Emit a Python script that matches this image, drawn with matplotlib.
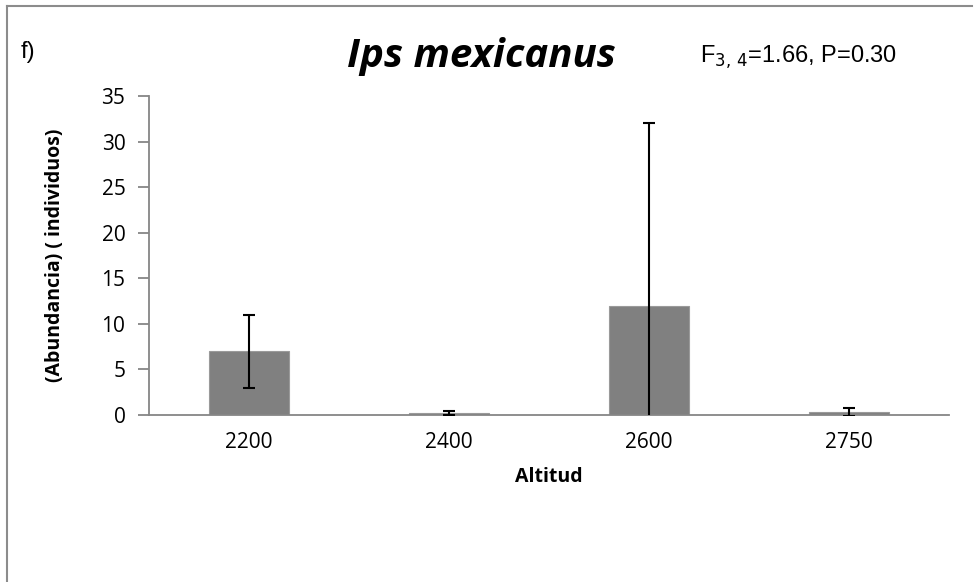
import matplotlib
matplotlib.use("Agg")
import matplotlib.pyplot as plt
from matplotlib.lines import Line2D

categories = ["2200", "2400", "2600", "2750"]
means = [7.0, 0.25, 12.0, 0.3]
errors = [4.0, 0.2, 20.0, 0.45]
yticks = [0, 5, 10, 15, 20, 25, 30, 35]

W, H = 977, 582
fig = plt.figure(figsize=(W / 100, H / 100), dpi=100)
ax = fig.add_axes([149 / W, 1 - 415 / H, 800 / W, 319 / H])

x = range(len(categories))
ax.bar(x, means, width=0.4, color="#808080", edgecolor="#9a9a9a", linewidth=0.8, zorder=2)
ax.errorbar(x, means, yerr=errors, fmt="none", ecolor="black", elinewidth=1.5,
            capsize=4.5, capthick=1.5, zorder=3)

ax.set_xlim(-0.5, len(categories) - 0.5)
ax.set_ylim(0, 35)
ax.set_yticks(yticks)
ax.set_xticks(list(x))
ax.set_xticklabels(categories)

for s in ["top", "right"]:
    ax.spines[s].set_visible(False)
for s in ["left", "bottom"]:
    ax.spines[s].set_color("#868686")
    ax.spines[s].set_linewidth(1.3)
ax.tick_params(axis="y", direction="out", length=8, width=1.3, color="#868686",
               labelsize=15, pad=9)
ax.tick_params(axis="x", length=0, labelsize=15, pad=12)
for lab in ax.get_xticklabels() + ax.get_yticklabels():
    lab.set_fontfamily("Open Sans")

ax.set_xlabel("Altitud", fontfamily="Open Sans", fontweight="bold", fontsize=14, labelpad=10)
ax.set_ylabel("(Abundancia) ( individuos)", fontfamily="Open Sans", fontweight="bold",
              fontsize=14, labelpad=26)

fig.text(481 / W, 1 - 57 / H, "Ips mexicanus", fontfamily="Open Sans", fontweight="bold",
         fontstyle="italic", fontsize=29, ha="center", va="center")
fig.text(21 / W, 1 - 52 / H, "f)", fontfamily="Liberation Sans", fontsize=17,
         ha="left", va="center")
fig.text(700 / W, 1 - 57 / H, r"F$_{3,\,4}$=1.66, P=0.30", fontfamily="Liberation Sans",
         fontsize=17, ha="left", va="center")

# outer frame
fig.add_artist(Line2D([7 / W, 7 / W], [0, 1 - 6 / H], color="#8c8c8c", lw=1.5))
fig.add_artist(Line2D([7 / W, 972 / W], [1 - 6 / H, 1 - 6 / H], color="#8c8c8c", lw=1.5))

fig.savefig("out.png", dpi=100)
